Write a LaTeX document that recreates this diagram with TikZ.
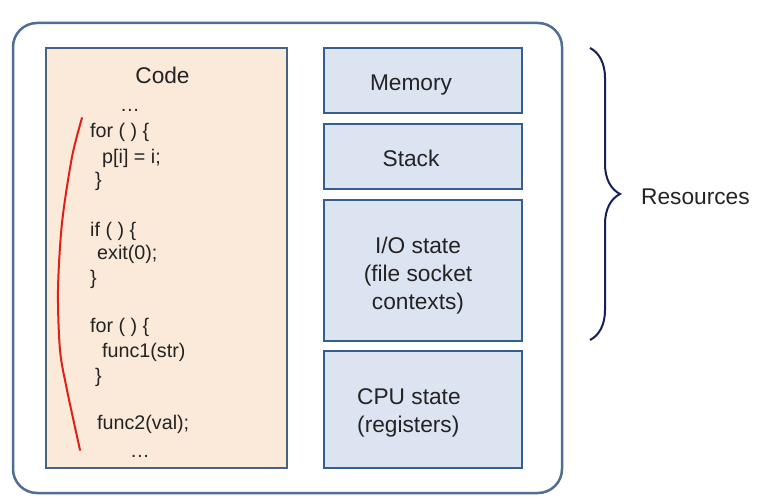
\documentclass[tikz,border=0pt]{standalone}
\usepackage{fontspec}
\setmainfont{Liberation Sans}
\usetikzlibrary{decorations.pathreplacing,positioning}
\definecolor{frame}{RGB}{80,110,148}
\definecolor{peach}{RGB}{251,234,218}
\definecolor{codeedge}{RGB}{72,98,134}
\definecolor{paleblue}{RGB}{220,228,242}
\definecolor{resedge}{RGB}{52,94,142}
\definecolor{navy}{RGB}{22,32,82}
\definecolor{ink}{RGB}{35,35,35}
\definecolor{pen}{RGB}{222,32,22}
\tikzstyle{codebox} = [draw=codeedge, fill=peach, line width=2.5pt, inner sep=0pt]
\tikzstyle{resbox} = [draw=resedge, fill=paleblue, line width=2.5pt, minimum width=198pt, inner sep=0pt]
\tikzstyle{boxtext} = [text=ink, font=\fontsize{22.7}{28}\selectfont, inner sep=0pt, align=center]
\tikzstyle{codeline} = [text=ink, font=\fontsize{19.7}{24}\selectfont, inner sep=0pt, anchor=base west]
\begin{document}
\begin{tikzpicture}[x=1pt,y=-1pt]
  \useasboundingbox (0,0) rectangle (766,502);
  \draw[frame, line width=2.5pt, rounded corners=24pt] (13,23) rectangle (562,493);

  % code
  \node[codebox, minimum width=241pt, minimum height=420pt] (code) at (166.5,258) {};
  \node[boxtext] (codetitle) at (162.5,75) {Code};
  \foreach \x/\y/\t [count=\i] in {120/112/…, 90/138/{for ( ) \{}, 102/164/{p[i] = i;},
      95/187/\}, 90/237/{if ( ) \{}, 97/260/{exit(0);}, 90/285/\}, 90/333/{for ( ) \{},
      102/358/{func1(str)}, 95/383/\}, 97/430/{func2(val);}, 130/457/…}
    \node[codeline] (line\i) at (\x,\y) {\t};
  \draw[pen, line width=2pt, line cap=round] plot[smooth] coordinates
    {(82,118) (72,157) (62,223) (58,290) (60,350) (67,390) (80,450)};

  % resources
  \node[resbox, minimum height=65pt] (mem) at (423,80.5) {};
  \node[resbox, minimum height=65pt] (stack) at (423,156.5) {};
  \node[resbox, minimum height=141pt] (io) at (423,270.5) {};
  \node[resbox, minimum height=117pt] (cpu) at (423,409.5) {};
  \node[boxtext, anchor=base] (memtext) at (411,91) {Memory};
  \node[boxtext, anchor=base] (stacktext) at (411,167) {Stack};
  \node[boxtext] (iotext) at (418,276) {I/O state\\(file socket\\contexts)};
  \node[boxtext, align=left, anchor=west] (cputext) at (357,413) {CPU state\\(registers)};

  \coordinate (btop) at (590,48);
  \coordinate (bbot) at (590,340);
  \draw[navy, line width=2pt, decorate, decoration={brace, amplitude=30pt}] (btop) -- (bbot);
  \node[boxtext, anchor=west] (res) at (641,197) {Resources};
\end{tikzpicture}
\end{document}
